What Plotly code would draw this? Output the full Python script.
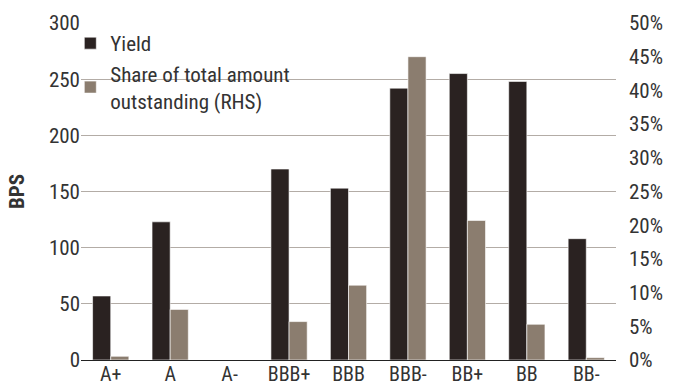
import plotly.graph_objects as go

ratings = ["A+", "A", "A-", "BBB+", "BBB", "BBB-", "BB+", "BB", "BB-"]
yield_bps = [57, 123, 0, 170, 153, 242, 255, 248, 108]
share_pct = [0.55, 7.5, 0, 5.7, 11.1, 45.0, 20.7, 5.3, 0.35]

YIELD_COLOR = "#2a2221"
SHARE_COLOR = "#8b7d6f"
FONT = "Liberation Sans Narrow, Roboto Condensed, Roboto, sans-serif"
TEXT = "#333333"
FS = 21

fig = go.Figure()
fig.add_trace(go.Bar(
    x=ratings, y=yield_bps, name="Yield",
    marker=dict(color=YIELD_COLOR, line=dict(color="white", width=0.6)),
    offsetgroup="y", yaxis="y",
))
fig.add_trace(go.Bar(
    x=ratings, y=[v / 100 for v in share_pct],
    name="Share of total amount<br>outstanding (RHS)",
    marker=dict(color=SHARE_COLOR, line=dict(color="white", width=0.6)),
    offsetgroup="s", yaxis="y2",
))

fig.update_layout(
    width=673, height=387,
    margin=dict(l=81, r=57, t=23, b=27, autoexpand=False),
    paper_bgcolor="white", plot_bgcolor="white",
    font=dict(family=FONT, size=FS, color=TEXT),
    barmode="group", bargap=0.39, bargroupgap=0,
    showlegend=True,
    legend=dict(x=-0.02, y=1.0, xanchor="left", yanchor="top",
                bgcolor="rgba(0,0,0,0)", font=dict(size=FS, color=TEXT),
                tracegroupgap=0, itemwidth=30, traceorder="normal"),
    xaxis=dict(showgrid=False, showline=True, linecolor="#222222", linewidth=1.2,
               ticks="", tickfont=dict(size=20), automargin=False,
               ticklabelstandoff=-4),
    yaxis=dict(range=[0, 300], dtick=50, showgrid=True, gridcolor="#b3aca6",
               gridwidth=1, zeroline=False, showline=False, ticks="",
               automargin=False,
               title=dict(text="<b>BPS</b>", standoff=18, font=dict(size=FS))),
    yaxis2=dict(range=[0, 0.5], dtick=0.05, tickformat=".0%", overlaying="y",
                side="right", showgrid=False, zeroline=False, showline=False,
                ticks="", ticklabelstandoff=12, automargin=False),
)

fig.write_html("out.html")
